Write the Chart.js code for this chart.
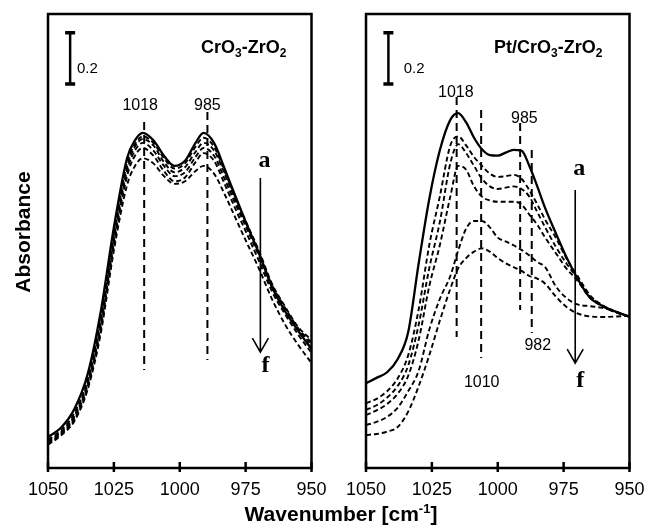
<!DOCTYPE html>
<html>
<head>
<meta charset="utf-8">
<script src="https://cdn.jsdelivr.net/npm/chart.js@4.4.0/dist/chart.umd.min.js"></script>
<style>
  body { margin: 0; background: #fff; }
  #wrap { position: relative; width: 648px; height: 526px; overflow: hidden; }
  #wrap canvas { position: absolute; top: 0; }
  #xTitle { position: absolute; left: 0; width: 682px; top: 502px; line-height: 22px; text-align: center;
            font: bold 21px "Liberation Sans", Arial, sans-serif; color: #000; }
  #xTitle sup { font-size: 13px; line-height: 0; }
</style>
</head>
<body>
<div id="wrap">
  <canvas id="leftPanel" width="330" height="526" style="left:0"></canvas>
  <canvas id="rightPanel" width="330" height="526" style="left:318px"></canvas>
  <div id="xTitle">Wavenumber [cm<sup>-1</sup>]</div>
</div>
<script>
// x ticks (cm-1), same for both panels
const xTicks = [1050, 1025, 1000, 975, 950];

// CrO3-ZrO2 panel, spectra a (solid) .. f
const czWn = [1050,1045,1040,1035,1030,1025,1020,1017,1014,1010,1006,1002,998,994,991,987,983,979,975,970,965,960,955,950];
const czA = [0.121,0.158,0.23,0.365,0.61,0.94,1.21,1.28,1.309,1.28,1.22,1.18,1.2,1.27,1.309,1.27,1.17,1.065,0.962,0.84,0.707,0.612,0.535,0.465];
const czB = [0.11,0.148,0.215,0.345,0.585,0.915,1.19,1.265,1.295,1.27,1.21,1.17,1.19,1.255,1.29,1.255,1.16,1.06,0.965,0.85,0.72,0.63,0.55,0.50];
const czC = [0.105,0.142,0.205,0.335,0.57,0.9,1.175,1.255,1.285,1.26,1.195,1.155,1.175,1.235,1.27,1.24,1.15,1.05,0.955,0.84,0.715,0.625,0.545,0.49];
const czD = [0.1,0.137,0.198,0.325,0.555,0.885,1.16,1.24,1.27,1.24,1.18,1.14,1.155,1.215,1.25,1.22,1.13,1.035,0.945,0.83,0.705,0.62,0.54,0.48];
const czE = [0.095,0.133,0.19,0.315,0.54,0.87,1.14,1.22,1.25,1.22,1.16,1.12,1.135,1.195,1.23,1.2,1.11,1.015,0.925,0.81,0.69,0.6,0.52,0.45];
const czF = [0.09,0.128,0.183,0.305,0.525,0.85,1.105,1.18,1.21,1.19,1.14,1.11,1.12,1.16,1.18,1.15,1.07,0.98,0.89,0.78,0.66,0.56,0.48,0.41];

// Pt/CrO3-ZrO2 panel
const ptWn = [1050,1046,1042,1038,1034,1030,1026,1022,1018,1015,1012,1009,1006,1003,1000,997,994,991,988,985,982,978,974,970,965,960,955,950];
const ptA = [0.331,0.352,0.374,0.425,0.53,0.80,1.05,1.24,1.36,1.386,1.35,1.29,1.245,1.222,1.22,1.232,1.243,1.24,1.18,1.1,1.015,0.918,0.825,0.745,0.665,0.632,0.61,0.591];
const ptB = [0.253,0.27,0.3,0.35,0.44,0.62,0.87,1.06,1.26,1.295,1.26,1.215,1.18,1.15,1.137,1.14,1.145,1.13,1.085,1.03,0.97,0.9,0.82,0.755,0.675,0.635,0.61,0.591];
const ptC = [0.227,0.245,0.275,0.32,0.4,0.56,0.78,0.96,1.19,1.265,1.23,1.18,1.13,1.1,1.09,1.095,1.1,1.09,1.06,1.0,0.94,0.865,0.8,0.745,0.67,0.632,0.608,0.591];
const ptD = [0.207,0.225,0.25,0.29,0.36,0.5,0.71,0.87,1.06,1.18,1.165,1.1,1.06,1.045,1.04,1.04,1.04,1.03,0.99,0.95,0.9,0.84,0.78,0.735,0.665,0.63,0.607,0.591];
const ptE = [0.168,0.18,0.2,0.235,0.3,0.38,0.54,0.66,0.75,0.85,0.935,0.965,0.965,0.94,0.9,0.885,0.87,0.852,0.83,0.805,0.785,0.71,0.665,0.64,0.632,0.625,0.61,0.591];
const ptF = [0.129,0.133,0.142,0.16,0.22,0.32,0.44,0.575,0.7,0.78,0.82,0.845,0.858,0.845,0.82,0.8,0.785,0.77,0.75,0.74,0.72,0.67,0.63,0.605,0.592,0.59,0.592,0.595];

// marked band positions [wavenumber, label]
const czBands = [[1013.5, '1018'], [989.5, '985']];
const ptBands = [[1015.6, '1018'], [1006.3, '1010'], [991.5, '985'], [987.1, '982']];

const FONT = '"Liberation Sans", Arial, sans-serif';
const SERIF = '"Liberation Serif", "Times New Roman", serif';

function makeSets(series) {
  return series.map((s, i) => ({
    data: s,
    borderColor: '#000',
    borderWidth: i === 0 ? 2.3 : 1.9,
    borderDash: i === 0 ? [] : [5, 3],
    pointRadius: 0,
    fill: false,
    cubicInterpolationMode: 'monotone'
  }));
}

function drawChem(ctx, parts, rightX, baseline) {
  const big = 'bold 18px ' + FONT, small = 'bold 12px ' + FONT;
  let total = 0;
  parts.forEach(p => {
    ctx.font = p[1] ? small : big;
    total += ctx.measureText(p[0]).width;
  });
  let cx = rightX - total;
  ctx.textAlign = 'left';
  ctx.textBaseline = 'alphabetic';
  parts.forEach(p => {
    ctx.font = p[1] ? small : big;
    ctx.fillText(p[0], cx, baseline + (p[1] ? 4 : 0));
    cx += ctx.measureText(p[0]).width;
  });
}

const panelDecor = {
  id: 'panelDecor',
  afterDraw(chart, args, o) {
    const { ctx, chartArea: ca } = chart;
    const x = chart.scales.x, y = chart.scales.y;
    ctx.save();
    ctx.strokeStyle = '#000';
    ctx.fillStyle = '#000';

    // band reference lines
    ctx.lineWidth = 2;
    ctx.setLineDash([8, 5]);
    o.lines.forEach(l => {
      const px = x.getPixelForValue(l[0]);
      ctx.beginPath();
      ctx.moveTo(px, y.getPixelForValue(l[1]));
      ctx.lineTo(px, y.getPixelForValue(l[2]));
      ctx.stroke();
    });
    ctx.setLineDash([]);

    // band labels
    ctx.font = '16px ' + FONT;
    ctx.textAlign = 'center';
    ctx.textBaseline = 'alphabetic';
    o.labels.forEach(l => ctx.fillText(l[0], x.getPixelForValue(l[1]), y.getPixelForValue(l[2])));

    // 0.2 scale bar
    const bx = x.getPixelForValue(o.bar[0]);
    const b0 = y.getPixelForValue(o.bar[1]), b1 = y.getPixelForValue(o.bar[1] + 0.2);
    ctx.lineWidth = 2.5;
    ctx.beginPath();
    ctx.moveTo(bx, b0); ctx.lineTo(bx, b1);
    ctx.stroke();
    ctx.lineWidth = 3.5;
    ctx.beginPath();
    ctx.moveTo(bx - 5, b0); ctx.lineTo(bx + 5, b0);
    ctx.moveTo(bx - 5, b1); ctx.lineTo(bx + 5, b1);
    ctx.stroke();
    ctx.font = '15px ' + FONT;
    ctx.textAlign = 'left';
    ctx.fillText('0.2', x.getPixelForValue(o.barText[0]), y.getPixelForValue(o.barText[1]));

    // sample name
    drawChem(ctx, o.name, x.getPixelForValue(o.nameAt[0]), y.getPixelForValue(o.nameAt[1]));

    // a -> f arrow
    const ax = x.getPixelForValue(o.arrow[0]);
    const a0 = y.getPixelForValue(o.arrow[1]), a1 = y.getPixelForValue(o.arrow[2]);
    ctx.lineWidth = 1.6;
    ctx.beginPath();
    ctx.moveTo(ax, a0); ctx.lineTo(ax, a1);
    ctx.moveTo(ax - 8, a1 - 14); ctx.lineTo(ax, a1); ctx.lineTo(ax + 8, a1 - 14);
    ctx.stroke();
    ctx.font = 'bold 24px ' + SERIF;
    ctx.textAlign = 'center';
    ctx.fillText('a', ax + 4, y.getPixelForValue(o.arrow[3]));
    ctx.fillText('f', ax + 5, y.getPixelForValue(o.arrow[4]));

    // frame and ticks
    ctx.lineWidth = 2.5;
    ctx.strokeRect(ca.left, ca.top, ca.right - ca.left, ca.bottom - ca.top);
    xTicks.forEach(t => {
      const px = x.getPixelForValue(t);
      ctx.beginPath();
      ctx.moveTo(px, ca.bottom - 6); ctx.lineTo(px, ca.bottom + 4);
      ctx.stroke();
    });

    if (o.yTitle) {
      ctx.translate(24, 232);
      ctx.rotate(-Math.PI / 2);
      ctx.font = 'bold 21px ' + FONT;
      ctx.textAlign = 'center';
      ctx.textBaseline = 'middle';
      ctx.fillText('Absorbance', 0, 0);
    }
    ctx.restore();
  }
};

function makePanel(id, labels, series, decor) {
  return new Chart(document.getElementById(id), {
    type: 'line',
    data: { labels: labels, datasets: makeSets(series) },
    options: {
      responsive: false,
      animation: false,
      events: [],
      layout: { padding: { left: 48, right: 18.5, top: 14, bottom: 0 } },
      plugins: { legend: { display: false }, tooltip: { enabled: false }, panelDecor: decor },
      scales: {
        x: {
          type: 'linear', reverse: true, min: 950, max: 1050,
          afterBuildTicks: s => { s.ticks = xTicks.map(v => ({ value: v })); },
          afterFit: s => { s.height = 58; s.paddingLeft = 0; s.paddingRight = 0; },
          grid: { display: false, drawTicks: false },
          border: { display: false },
          ticks: { padding: 11, color: '#000', font: { family: FONT, size: 18 }, maxRotation: 0,
                   callback: v => String(v) }
        },
        y: { display: false, min: 0, max: 454 / 256 }
      }
    },
    plugins: [panelDecor]
  });
}

makePanel('leftPanel', czWn, [czA, czB, czC, czD, czE, czF], {
  lines: [[czBands[0][0], 1.352, 0.383], [czBands[1][0], 1.391, 0.422]],
  labels: [[czBands[0][1], 1015.0, 1.398], [czBands[1][1], 989.5, 1.398]],
  bar: [1041.6, 1.5], barText: [1039.0, 1.543],
  name: [['CrO', 0], ['3', 1], ['-ZrO', 0], ['2', 1]], nameAt: [959.5, 1.621],
  arrow: [969.4, 1.133, 0.453, 1.176, 0.375],
  yTitle: true
});

makePanel('rightPanel', ptWn, [ptA, ptB, ptC, ptD, ptE, ptF], {
  lines: [[ptBands[0][0], 1.449, 0.512], [ptBands[1][0], 1.398, 0.43], [ptBands[2][0], 1.348, 0.617], [ptBands[3][0], 1.242, 0.527]],
  labels: [[ptBands[0][1], 1015.9, 1.449], [ptBands[1][1], 1006.1, 0.316], [ptBands[2][1], 989.9, 1.348], [ptBands[3][1], 984.8, 0.461]],
  bar: [1041.5, 1.5], barText: [1035.7, 1.543],
  name: [['Pt/CrO', 0], ['3', 1], ['-ZrO', 0], ['2', 1]], nameAt: [960.3, 1.621],
  arrow: [970.6, 1.086, 0.41, 1.145, 0.316],
  yTitle: false
});
</script>
</body>
</html>
